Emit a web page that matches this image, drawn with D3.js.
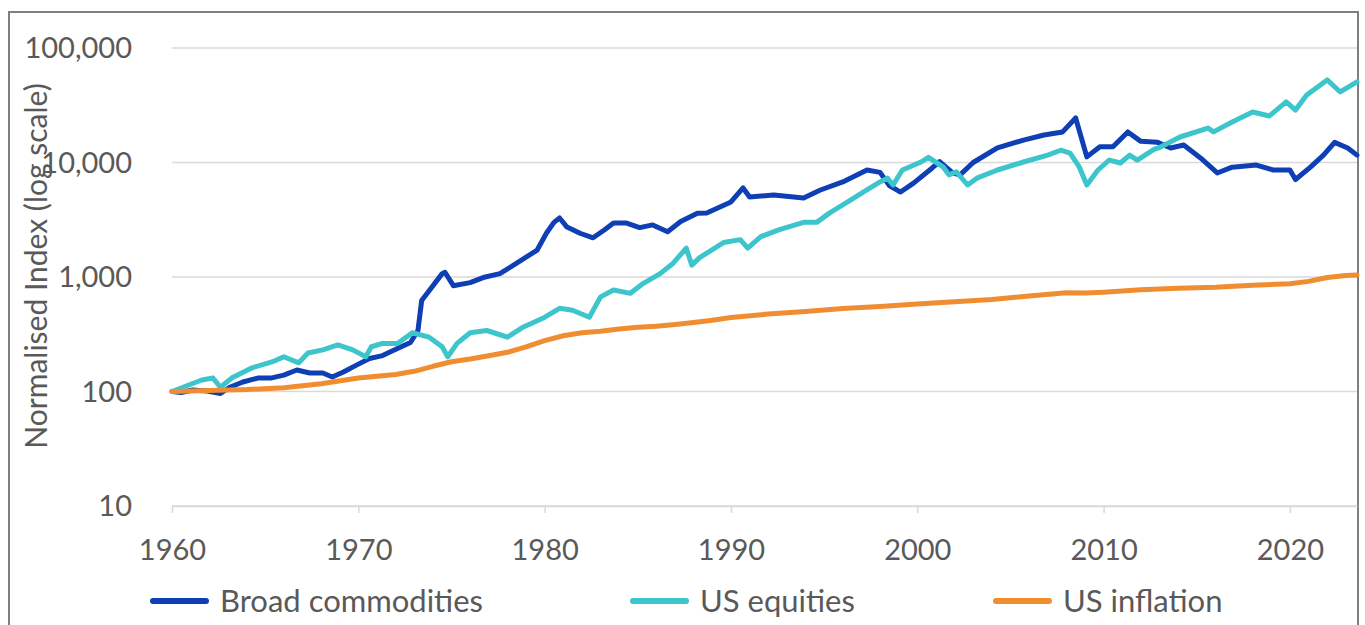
<!DOCTYPE html>
<html><head><meta charset="utf-8">
<script src="https://cdn.jsdelivr.net/npm/d3@7"></script>
<style>html,body{margin:0;padding:0;background:#fff;}svg{display:block;font-family:Lato,"Open Sans",sans-serif;}</style>
</head><body><svg id="c" width="1365" height="625"></svg>
<script>
const seriesNames = ["Broad commodities", "US equities", "US inflation"];
const seriesColors = ["#0f3fb4", "#3cc5cb", "#f08d31"];
const yTicks = [10, 100, 1000, 10000, 100000];
const xTicks = [1960, 1970, 1980, 1990, 2000, 2010, 2020];
const yTitle = "Normalised Index (log scale)";

const commodities = [[1960.0,100],[1960.5,98],[1961.1,103],[1961.9,101],[1962.6,96],[1963.1,109],[1963.8,121],[1964.6,131],[1965.3,131],[1966.0,139],[1966.7,154],[1967.4,145],[1968.1,145],[1968.6,134],[1969.2,148],[1969.9,170],[1970.6,194],[1971.3,206],[1972.1,237],[1972.8,268],[1973.2,341],[1973.4,622],[1973.8,760],[1974.5,1070],[1974.65,1100],[1975.1,840],[1976.0,893],[1976.7,989],[1977.6,1070],[1978.5,1320],[1979.6,1720],[1980.1,2420],[1980.5,3000],[1980.8,3275],[1981.2,2730],[1981.9,2410],[1982.6,2200],[1983.2,2570],[1983.7,2960],[1984.4,2960],[1985.1,2700],[1985.8,2850],[1986.6,2480],[1987.3,3050],[1988.2,3600],[1988.7,3620],[1990.0,4520],[1990.65,5990],[1991.0,5000],[1992.3,5200],[1993.9,4900],[1994.8,5750],[1996.0,6760],[1997.3,8590],[1998.0,8200],[1998.5,6300],[1999.1,5520],[1999.8,6600],[2000.8,8960],[2001.2,10200],[2001.9,8100],[2002.3,7800],[2003.0,10000],[2004.3,13400],[2005.7,15700],[2006.8,17400],[2007.8,18500],[2008.5,24500],[2009.1,11200],[2009.8,13700],[2010.5,13700],[2011.3,18500],[2012.0,15300],[2012.9,15000],[2013.6,13400],[2014.3,14200],[2015.2,10950],[2016.1,8100],[2016.9,9100],[2018.2,9500],[2019.1,8600],[2020.0,8600],[2020.3,7100],[2021.1,9100],[2021.8,11600],[2022.4,15000],[2023.1,13400],[2023.6,11600]];

const equities = [[1960.0,100],[1960.9,114],[1961.6,126],[1962.2,131],[1962.6,109],[1963.2,131],[1964.3,161],[1965.4,182],[1966.0,201],[1966.8,178],[1967.3,217],[1968.1,231],[1968.9,255],[1969.7,231],[1970.4,201],[1970.7,246],[1971.3,263],[1972.1,263],[1972.9,326],[1973.8,298],[1974.5,246],[1974.8,201],[1975.3,263],[1976.0,326],[1976.9,341],[1978.0,298],[1978.8,362],[1979.9,436],[1980.8,533],[1981.5,513],[1982.4,445],[1983.0,670],[1983.7,770],[1984.6,720],[1985.3,880],[1986.2,1070],[1986.9,1320],[1987.6,1790],[1987.9,1270],[1988.3,1470],[1989.6,2000],[1990.5,2120],[1990.9,1790],[1991.6,2250],[1992.6,2590],[1993.9,3000],[1994.6,3000],[1995.3,3630],[1996.2,4460],[1997.1,5520],[1998.0,6760],[1998.4,7300],[1998.7,6360],[1999.2,8600],[2000.2,10100],[2000.6,11100],[2001.4,9100],[2001.7,7800],[2002.1,8300],[2002.7,6360],[2003.2,7300],[2004.3,8600],[2005.7,10100],[2007.0,11600],[2007.7,12800],[2008.2,12100],[2008.7,9100],[2009.1,6360],[2009.7,8600],[2010.3,10500],[2010.9,9900],[2011.4,11600],[2011.8,10500],[2012.0,11000],[2012.7,13000],[2013.0,13500],[2014.1,16700],[2015.6,20000],[2015.9,18500],[2016.9,22600],[2018.0,27600],[2018.9,25500],[2019.8,33800],[2020.3,28700],[2020.9,38800],[2022.0,52600],[2022.7,41300],[2023.6,50500]];

const inflation = [[1960,100],[1962,102],[1964,104],[1966,108],[1968,117],[1970,131],[1972,141],[1973,150],[1974,166],[1975,182],[1976,192],[1977,205],[1978,220],[1979,245],[1980,278],[1981,307],[1982,326],[1983,336],[1984,351],[1985,364],[1986,371],[1987,384],[1988,400],[1989,419],[1990,442],[1992,475],[1994,500],[1996,530],[1998,552],[2000,582],[2002,607],[2004,637],[2006,681],[2008,727],[2009,724],[2010,737],[2012,775],[2014,797],[2016,812],[2018,848],[2020,874],[2021,916],[2022,989],[2023,1029],[2023.6,1040]];

const allSeries = [commodities, equities, inflation];

const svg = d3.select("#c");
const L = 172, R = 1357, T = 48, B = 506;
const x = d3.scaleLinear().domain([1960, 2023.6]).range([L, R]);
const y = d3.scaleLog().domain([10, 100000]).range([B, T]);
const textCol = "#595959", gridCol = "#d9d9d9";

// frame
svg.append("rect").attr("x", 9).attr("y", 12).attr("width", 1349).attr("height", 640)
  .attr("fill", "none").attr("stroke", "#7f7f7f").attr("stroke-width", 2);

// gridlines
svg.append("g").selectAll("line").data(yTicks).join("line")
  .attr("x1", L).attr("x2", R).attr("y1", d => y(d)).attr("y2", d => y(d))
  .attr("stroke", gridCol).attr("stroke-width", 1.5);

// y labels
svg.append("g").selectAll("text").data(yTicks).join("text")
  .attr("x", 132).attr("y", d => y(d)).attr("dy", "0.35em").attr("text-anchor", "end")
  .attr("fill", textCol).attr("font-size", 29).text(d => d3.format(",")(d));

// x axis
const xAxis = svg.append("g").attr("transform", `translate(0,${B})`)
  .call(d3.axisBottom(x).tickValues(xTicks).tickFormat(d3.format("d")).tickSize(7).tickPadding(26).tickSizeOuter(0));
xAxis.select(".domain").attr("stroke", gridCol).attr("stroke-width", 1.5);
xAxis.selectAll(".tick line").attr("stroke", gridCol).attr("stroke-width", 1.5);
xAxis.selectAll(".tick text").attr("fill", textCol).attr("font-size", 29).attr("font-family", "Lato, sans-serif");

// y title
svg.append("text").attr("transform", "translate(47,266) rotate(-90)").attr("text-anchor", "middle")
  .attr("fill", textCol).attr("font-size", 30).text(yTitle);

// lines
const line = d3.line().x(d => x(d[0])).y(d => y(d[1])).curve(d3.curveLinear);
svg.append("g").selectAll("path").data(allSeries).join("path")
  .attr("d", line).attr("fill", "none").attr("stroke", (d, i) => seriesColors[i])
  .attr("stroke-width", 5).attr("stroke-linejoin", "round").attr("stroke-linecap", "round");

// legend
const legX = [150, 630, 993];
const leg = svg.append("g").selectAll("g").data(seriesNames).join("g")
  .attr("transform", (d, i) => `translate(${legX[i]},601)`);
leg.append("line").attr("x1", 3).attr("x2", 56).attr("y1", 0).attr("y2", 0)
  .attr("stroke", (d, i) => seriesColors[i]).attr("stroke-width", 6).attr("stroke-linecap", "round");
leg.append("text").attr("x", 70).attr("y", 0).attr("dy", "0.35em")
  .attr("fill", textCol).attr("font-size", 31).text(d => d);
</script></body></html>
